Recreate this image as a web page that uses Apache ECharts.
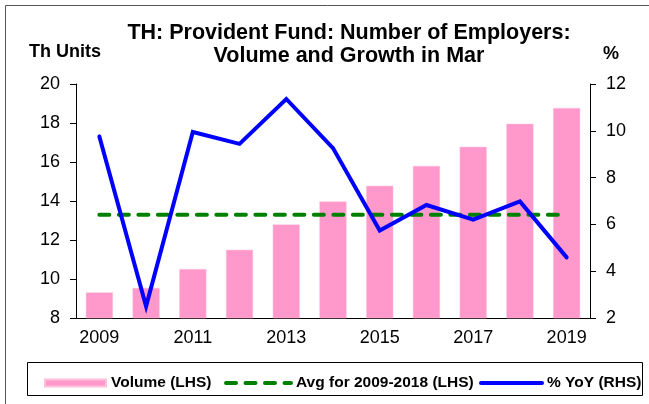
<!DOCTYPE html>
<html>
<head>
<meta charset="utf-8">
<script src="https://cdn.jsdelivr.net/npm/echarts@6/dist/echarts.min.js"></script>
<style>
  html, body { margin: 0; padding: 0; background: #fff; }
  #chart { width: 649px; height: 404px; }
</style>
</head>
<body>
<div id="chart"></div>
<script>
var years = ['2009', '2010', '2011', '2012', '2013', '2014', '2015', '2016', '2017', '2018', '2019'];
var volume = [9.31, 9.54, 10.51, 11.5, 12.8, 13.98, 14.78, 15.8, 16.78, 17.96, 18.77];
var avg0918 = [13.3, 13.3, 13.3, 13.3, 13.3, 13.3, 13.3, 13.3, 13.3, 13.3, 13.3];
var yoy = [9.76, 2.5, 9.95, 9.44, 11.36, 9.26, 5.74, 6.83, 6.2, 6.98, 4.59];

var chart = echarts.init(document.getElementById('chart'));

var font = 'Liberation Sans, Arial, sans-serif';
var legendText = { fontFamily: font, fontSize: 15.5, fontWeight: 'bold', color: '#000' };

option = {
    backgroundColor: '#fff',
    animation: false,
    title: {
        text: 'TH: Provident Fund: Number of Employers:\nVolume and Growth in Mar',
        left: 344,
        top: 17,
        textAlign: 'center',
        textStyle: {
            fontFamily: font,
            fontSize: 21.5,
            fontWeight: 'bold',
            color: '#000',
            lineHeight: 22.5
        }
    },
    graphic: [
        // outer frame
        { type: 'rect', shape: { x: 5.5, y: 5.5, width: 660, height: 420 },
          style: { fill: 'none', stroke: '#555', lineWidth: 1 }, silent: true },
        // legend frame
        { type: 'rect', shape: { x: 27.5, y: 362.5, width: 615, height: 33 },
          style: { fill: 'none', stroke: '#000', lineWidth: 1 }, silent: true },
        { type: 'text', left: 29, top: 43,
          style: { text: 'Th Units', font: 'bold 18px ' + font, fill: '#000' } },
        { type: 'text', left: 603, top: 45,
          style: { text: '%', font: 'bold 18px ' + font, fill: '#000' } }
    ],
    legend: [{
        data: [{ name: 'Volume (LHS)', icon: 'rect' }],
        left: 39, top: 370,
        itemWidth: 61, itemHeight: 7, itemGap: 6,
        selectedMode: false,
        textStyle: legendText
    }, {
        data: [{ name: 'Avg for 2009-2018 (LHS)', itemStyle: { opacity: 0 } }],
        left: 219, top: 370,
        itemWidth: 65, itemHeight: 7, itemGap: 6,
        selectedMode: false,
        lineStyle: { width: 4 },
        textStyle: legendText
    }, {
        data: [{ name: '% YoY (RHS)', itemStyle: { opacity: 0 } }],
        left: 474, top: 370,
        itemWidth: 61, itemHeight: 7, itemGap: 3,
        selectedMode: false,
        lineStyle: { width: 4 },
        textStyle: legendText
    }],
    grid: {
        left: 76,
        right: 59,
        top: 84,
        bottom: 86
    },
    xAxis: {
        type: 'category',
        data: years,
        boundaryGap: true,
        axisLine: { lineStyle: { color: '#000', width: 1 } },
        axisTick: { interval: 0, length: 6, lineStyle: { color: '#000' } },
        axisLabel: { interval: 1, fontFamily: font, fontSize: 18, color: '#000', margin: 11 }
    },
    yAxis: [{
        type: 'value',
        min: 8, max: 20, interval: 2,
        splitLine: { show: false },
        axisLine: { show: true, lineStyle: { color: '#000', width: 1 } },
        axisTick: { show: true, length: 6, lineStyle: { color: '#000' } },
        axisLabel: { fontFamily: font, fontSize: 18, color: '#000', margin: 16 }
    }, {
        type: 'value',
        min: 2, max: 12, interval: 2,
        position: 'right',
        splitLine: { show: false },
        axisLine: { show: true, lineStyle: { color: '#000', width: 1 } },
        axisTick: { show: true, length: 6, lineStyle: { color: '#000' } },
        axisLabel: { fontFamily: font, fontSize: 18, color: '#000', margin: 16 }
    }],
    series: [{
        name: 'Volume (LHS)',
        type: 'bar',
        data: volume,
        barWidth: '58%',
        itemStyle: { color: '#ff99cc', borderColor: '#ffc0dd', borderWidth: 0.5 }
    }, {
        name: 'Avg for 2009-2018 (LHS)',
        type: 'line',
        data: avg0918,
        symbol: 'none',
        lineStyle: { color: '#008000', width: 4, type: [10, 9.5], cap: 'round' },
        itemStyle: { color: '#008000' }
    }, {
        name: '% YoY (RHS)',
        type: 'line',
        yAxisIndex: 1,
        data: yoy,
        symbol: 'none',
        lineStyle: { color: '#0000ff', width: 4, cap: 'round', join: 'miter' },
        itemStyle: { color: '#0000ff' }
    }]
};

chart.setOption(option);
</script>
</body>
</html>
